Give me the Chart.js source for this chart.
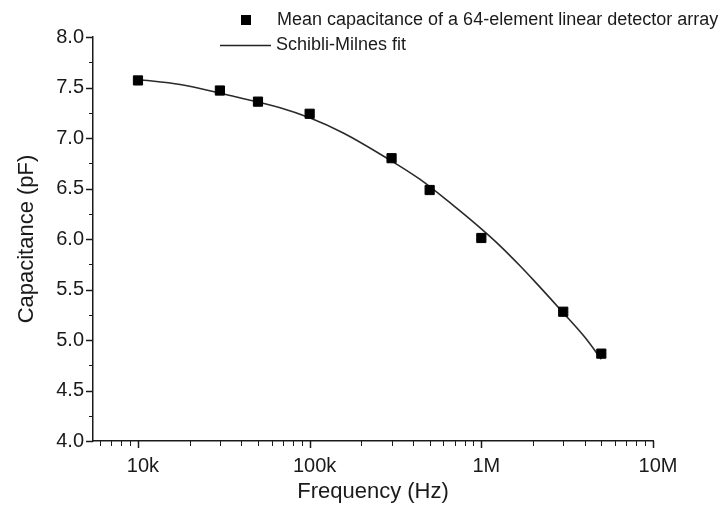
<!DOCTYPE html>
<html>
<head>
<meta charset="utf-8">
<script src="https://cdn.jsdelivr.net/npm/chart.js@4/dist/chart.umd.min.js"></script>
<style>
  html, body { margin: 0; padding: 0; background: #ffffff; }
  #wrap { width: 728px; height: 513px; }
</style>
</head>
<body>
<div id="wrap"><canvas id="c" width="728" height="513"></canvas></div>
<script>
// ---- data ----
const freqHz = [10000, 30000, 50000, 100000, 300000, 500000, 1000000, 3000000, 5000000];
const capacitancePF = [7.57, 7.47, 7.36, 7.24, 6.80, 6.485, 6.01, 5.28, 4.865];

const fitFreqHz = [10000, 17600, 34400, 67300, 100000, 157000, 282000, 440000, 689000, 1000000, 1290000, 1690000, 2020000, 2890000, 4000000, 5000000];
const fitPF = [7.58, 7.53, 7.42, 7.30, 7.20, 7.05, 6.80, 6.59, 6.33, 6.10, 5.93, 5.73, 5.59, 5.30, 5.03, 4.81];

const seriesLabels = ['Mean capacitance of a 64-element linear detector array', 'Schibli-Milnes fit'];
const xMajorTicks = [10000, 100000, 1000000, 10000000];
const xMajorLabels = ['10k', '100k', '1M', '10M'];
const xMinorTicks = [6000, 7000, 8000, 9000,
  20000, 30000, 40000, 50000, 60000, 70000, 80000, 90000,
  200000, 300000, 400000, 500000, 600000, 700000, 800000, 900000,
  2000000, 3000000, 4000000, 5000000, 6000000, 7000000, 8000000, 9000000];
const yMin = 4.0, yMax = 8.0, yStep = 0.25;
const xMin = 5470, xMax = 10000000;

const FONT = "'Liberation Sans', Arial, Helvetica, sans-serif";
const INK = '#1a1a1a';

const tickPlugin = {
  id: 'customTicks',
  afterDraw(chart) {
    const ctx = chart.ctx;
    const xs = chart.scales.x, ys = chart.scales.y;
    const area = chart.chartArea;
    ctx.save();
    ctx.strokeStyle = INK;
    xs.ticks.forEach(t => {
      const px = Math.round(xs.getPixelForValue(t.value)) + 0.5;
      const len = t.major ? 7 : 5;
      ctx.lineWidth = t.major ? 1.5 : 1;
      ctx.beginPath();
      ctx.moveTo(px, area.bottom);
      ctx.lineTo(px, area.bottom + len);
      ctx.stroke();
    });
    ys.ticks.forEach(t => {
      const py = Math.round(ys.getPixelForValue(t.value)) + 0.5;
      const major = Math.abs(t.value * 2 - Math.round(t.value * 2)) < 1e-6;
      const len = major ? 7 : 4;
      ctx.lineWidth = major ? 1.5 : 1;
      ctx.beginPath();
      ctx.moveTo(area.left, py);
      ctx.lineTo(area.left - len, py);
      ctx.stroke();
    });
    // legend
    ctx.fillStyle = '#000';
    ctx.fillRect(241, 15, 10, 10);
    ctx.font = '18px ' + FONT;
    ctx.fillStyle = INK;
    ctx.textBaseline = 'middle';
    ctx.textAlign = 'left';
    ctx.fillText(seriesLabels[0], 277, 20);
    ctx.strokeStyle = '#222';
    ctx.lineWidth = 1.5;
    ctx.beginPath();
    ctx.moveTo(220, 45.5);
    ctx.lineTo(271, 45.5);
    ctx.stroke();
    ctx.fillText(seriesLabels[1], 276, 45);
    ctx.restore();
  }
};

new Chart(document.getElementById('c'), {
  data: {
    datasets: [
      {
        type: 'line',
        label: seriesLabels[1],
        data: fitFreqHz.map((f, i) => ({ x: f, y: fitPF[i] })),
        borderColor: '#2a2a2a',
        borderWidth: 1.6,
        pointRadius: 0,
        cubicInterpolationMode: 'monotone',
        fill: false,
        order: 2
      },
      {
        type: 'scatter',
        label: seriesLabels[0],
        data: freqHz.map((f, i) => ({ x: f, y: capacitancePF[i] })),
        pointStyle: 'rect',
        pointRadius: 6.5,
        backgroundColor: '#000',
        borderColor: '#000',
        borderWidth: 1,
        order: 1
      }
    ]
  },
  options: {
    responsive: false,
    animation: false,
    devicePixelRatio: 1,
    layout: { padding: { left: 0, right: 75, top: 37, bottom: 0 } },
    plugins: { legend: { display: false }, tooltip: { enabled: false } },
    scales: {
      x: {
        type: 'logarithmic',
        min: xMin,
        max: xMax,
        afterBuildTicks(scale) {
          const all = xMajorTicks.map(v => ({ value: v, major: true }))
            .concat(xMinorTicks.map(v => ({ value: v, major: false })));
          all.sort((a, b) => a.value - b.value);
          scale.ticks = all;
        },
        afterFit(scale) { scale.height = 72; },
        border: { display: true, color: INK, width: 1.5 },
        grid: { display: false, drawTicks: false },
        ticks: {
          autoSkip: false,
          maxRotation: 0,
          padding: 13,
          labelOffset: 5,
          color: INK,
          font: { family: FONT, size: 20 },
          callback(value) {
            const i = xMajorTicks.indexOf(value);
            return i >= 0 ? xMajorLabels[i] : '';
          }
        },
        title: {
          display: true,
          text: 'Frequency (Hz)',
          color: INK,
          font: { family: FONT, size: 22 },
          padding: { top: 0, bottom: 8 }
        }
      },
      y: {
        type: 'linear',
        min: yMin,
        max: yMax,
        afterFit(scale) { scale.width = 93; },
        border: { display: true, color: INK, width: 1.5 },
        grid: { display: false, drawTicks: false },
        ticks: {
          stepSize: yStep,
          autoSkip: false,
          padding: 9,
          color: INK,
          font: { family: FONT, size: 20 },
          callback(value) {
            const isMajor = Math.abs(value * 2 - Math.round(value * 2)) < 1e-6;
            return isMajor ? value.toFixed(1) : '';
          }
        },
        title: {
          display: true,
          text: 'Capacitance (pF)',
          color: INK,
          font: { family: FONT, size: 22 },
          padding: { top: 14, bottom: 0 }
        }
      }
    }
  },
  plugins: [tickPlugin]
});
</script>
</body>
</html>
